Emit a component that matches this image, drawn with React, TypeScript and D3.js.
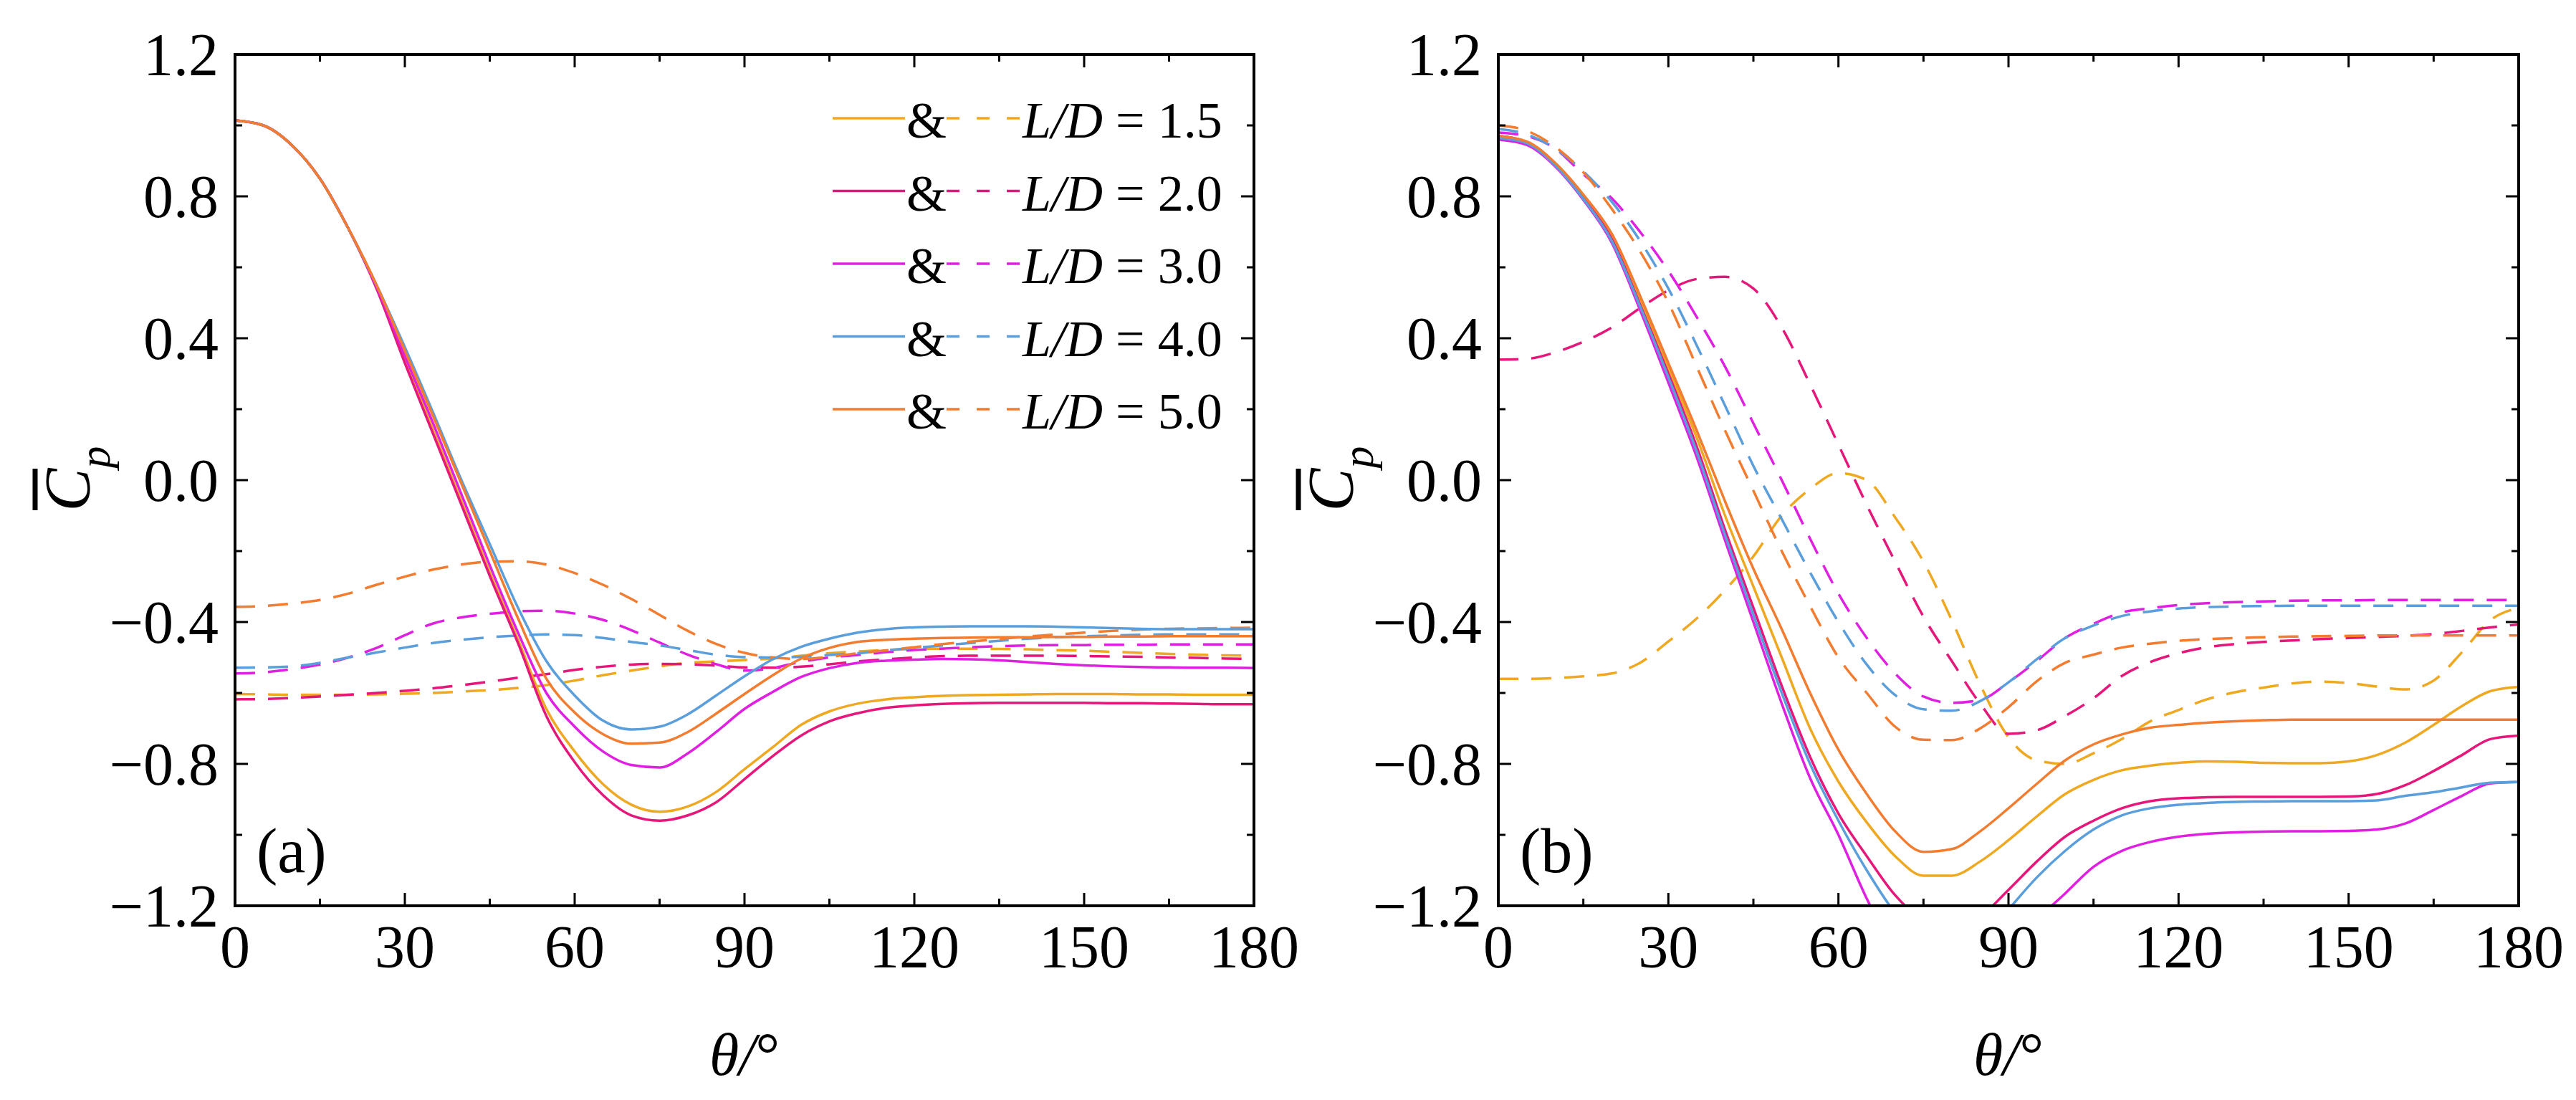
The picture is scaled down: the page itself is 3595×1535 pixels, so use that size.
import * as d3 from "d3"

// theta grid shared by every series (degrees)
const thetas = [
  0, 5, 10, 15, 20, 25, 30, 35, 40, 45, 50, 55, 60, 65, 70, 75, 80, 85, 90,
  95, 100, 105, 110, 115, 120, 125, 130, 135, 140, 145, 150, 155, 160, 165,
  170, 175, 180,
]

const ratios = ["1.5", "2.0", "3.0", "4.0", "5.0"]
const colors = ["#EEA821", "#E6177A", "#E020E0", "#5A9FDB", "#F27C30"]

const xTicks = [0, 30, 60, 90, 120, 150, 180]
const xMinor = [15, 45, 75, 105, 135, 165]
const yTicks = [-1.2, -0.8, -0.4, 0, 0.4, 0.8, 1.2]
const yMinor = [-1.0, -0.6, -0.2, 0.2, 0.6, 1.0]

// panel (a), solid lines
const aSolid15 = [1.014, 1.0, 0.945, 0.85, 0.71, 0.545, 0.34, 0.14, -0.06, -0.26, -0.45, -0.645, -0.765, -0.857, -0.915, -0.935, -0.92, -0.879, -0.815, -0.753, -0.69, -0.652, -0.63, -0.618, -0.612, -0.608, -0.606, -0.605, -0.604, -0.603, -0.603, -0.603, -0.604, -0.604, -0.605, -0.605, -0.605]
const aSolid20 = [1.014, 1.0, 0.945, 0.85, 0.71, 0.54, 0.33, 0.13, -0.07, -0.27, -0.46, -0.665, -0.795, -0.888, -0.945, -0.96, -0.945, -0.908, -0.843, -0.778, -0.72, -0.68, -0.657, -0.642, -0.635, -0.631, -0.629, -0.628, -0.628, -0.628, -0.628, -0.629, -0.629, -0.63, -0.631, -0.632, -0.632]
const aSolid30 = [1.014, 1.0, 0.945, 0.85, 0.71, 0.545, 0.35, 0.16, -0.04, -0.24, -0.43, -0.6, -0.695, -0.765, -0.803, -0.81, -0.77, -0.71, -0.645, -0.597, -0.555, -0.53, -0.515, -0.509, -0.506, -0.504, -0.505, -0.508, -0.513, -0.518, -0.522, -0.525, -0.527, -0.528, -0.529, -0.529, -0.53]
const aSolid40 = [1.014, 1.0, 0.945, 0.85, 0.71, 0.55, 0.375, 0.19, 0.0, -0.18, -0.36, -0.51, -0.607, -0.678, -0.703, -0.695, -0.66, -0.607, -0.553, -0.505, -0.47, -0.447, -0.43, -0.42, -0.415, -0.413, -0.412, -0.412, -0.412, -0.413, -0.415, -0.417, -0.419, -0.42, -0.42, -0.42, -0.42]
const aSolid50 = [1.014, 1.0, 0.945, 0.85, 0.71, 0.55, 0.365, 0.18, -0.01, -0.2, -0.39, -0.56, -0.655, -0.716, -0.743, -0.74, -0.71, -0.658, -0.603, -0.55, -0.503, -0.473, -0.456, -0.45, -0.447, -0.445, -0.444, -0.443, -0.443, -0.442, -0.442, -0.441, -0.441, -0.44, -0.44, -0.44, -0.44]

// panel (a), dashed lines
const aDash15 = [-0.603, -0.604, -0.605, -0.605, -0.605, -0.604, -0.602, -0.6, -0.596, -0.592, -0.586, -0.578, -0.565, -0.55, -0.537, -0.525, -0.515, -0.511, -0.507, -0.503, -0.495, -0.488, -0.483, -0.479, -0.476, -0.475, -0.475, -0.476, -0.477, -0.479, -0.481, -0.484, -0.487, -0.49, -0.492, -0.494, -0.495]
const aDash20 = [-0.618, -0.617, -0.614, -0.61, -0.605, -0.6, -0.594, -0.587, -0.578, -0.568, -0.557, -0.547, -0.535, -0.526, -0.52, -0.518, -0.519, -0.523, -0.528, -0.529, -0.526, -0.519, -0.511, -0.505, -0.5, -0.496, -0.495, -0.495, -0.495, -0.495, -0.496, -0.497, -0.498, -0.5, -0.501, -0.503, -0.504]
const aDash30 = [-0.545, -0.542, -0.533, -0.52, -0.5, -0.473, -0.437, -0.404, -0.387, -0.377, -0.37, -0.368, -0.376, -0.394, -0.423, -0.458, -0.492, -0.519, -0.537, -0.53, -0.512, -0.5, -0.493, -0.485, -0.479, -0.475, -0.471, -0.468, -0.466, -0.465, -0.465, -0.464, -0.464, -0.463, -0.463, -0.463, -0.463]
const aDash40 = [-0.529, -0.528, -0.525, -0.515, -0.5, -0.486, -0.472, -0.459, -0.45, -0.443, -0.438, -0.435, -0.437, -0.445, -0.456, -0.466, -0.479, -0.492, -0.499, -0.5, -0.498, -0.493, -0.488, -0.48, -0.473, -0.466, -0.459, -0.453, -0.447, -0.443, -0.44, -0.438, -0.436, -0.435, -0.435, -0.435, -0.435]
const aDash50 = [-0.357, -0.355, -0.348, -0.338, -0.32, -0.295, -0.272, -0.252, -0.238, -0.23, -0.229, -0.238, -0.262, -0.295, -0.335, -0.38, -0.425, -0.462, -0.487, -0.5, -0.504, -0.498, -0.488, -0.48, -0.471, -0.462, -0.455, -0.448, -0.441, -0.435, -0.43, -0.425, -0.421, -0.419, -0.418, -0.417, -0.416]

// panel (b), solid lines
const bSolid15 = [0.97, 0.953, 0.893, 0.8, 0.69, 0.51, 0.315, 0.12, -0.1, -0.3, -0.5, -0.7, -0.85, -0.965, -1.06, -1.115, -1.115, -1.075, -1.015, -0.948, -0.885, -0.845, -0.818, -0.805, -0.797, -0.793, -0.794, -0.797, -0.798, -0.798, -0.793, -0.775, -0.74, -0.69, -0.637, -0.595, -0.583]
const bSolid20 = [0.97, 0.953, 0.89, 0.795, 0.68, 0.495, 0.3, 0.095, -0.14, -0.36, -0.58, -0.78, -0.94, -1.06, -1.17, -1.24, -1.26, -1.23, -1.155, -1.075, -1.005, -0.96, -0.925, -0.905, -0.897, -0.894, -0.893, -0.893, -0.893, -0.893, -0.892, -0.885, -0.86, -0.82, -0.775, -0.73, -0.72]
const bSolid30 = [0.96, 0.945, 0.885, 0.79, 0.67, 0.48, 0.275, 0.065, -0.17, -0.4, -0.63, -0.84, -1.0, -1.18, -1.33, -1.42, -1.45, -1.41, -1.33, -1.24, -1.165, -1.09, -1.045, -1.02, -1.005, -0.997, -0.993, -0.991, -0.99, -0.99, -0.989, -0.985, -0.968, -0.93, -0.89, -0.855, -0.851]
const bSolid40 = [0.965, 0.95, 0.888, 0.793, 0.675, 0.49, 0.29, 0.08, -0.155, -0.38, -0.6, -0.8, -0.96, -1.1, -1.22, -1.3, -1.33, -1.3, -1.21, -1.12, -1.045, -0.985, -0.945, -0.925, -0.915, -0.91, -0.907, -0.906, -0.905, -0.905, -0.905, -0.903, -0.89, -0.88, -0.866, -0.853, -0.851]
const bSolid50 = [0.97, 0.955, 0.895, 0.805, 0.695, 0.52, 0.33, 0.14, -0.06, -0.25, -0.42, -0.6, -0.76, -0.885, -0.99, -1.048, -1.04, -0.99, -0.925, -0.856, -0.79, -0.745, -0.717, -0.698, -0.69, -0.684, -0.68, -0.677, -0.675, -0.675, -0.675, -0.675, -0.675, -0.675, -0.675, -0.675, -0.675]

// panel (b), dashed lines
const bDash15 = [-0.56, -0.56, -0.558, -0.553, -0.545, -0.515, -0.455, -0.39, -0.31, -0.215, -0.1, -0.025, 0.02, 0.0, -0.105, -0.23, -0.395, -0.576, -0.725, -0.79, -0.8, -0.77, -0.73, -0.68, -0.648, -0.618, -0.598, -0.585, -0.573, -0.568, -0.572, -0.582, -0.59, -0.565, -0.485, -0.395, -0.36]
const bDash20 = [0.34, 0.342, 0.36, 0.39, 0.43, 0.485, 0.535, 0.567, 0.573, 0.54, 0.43, 0.27, 0.1, -0.07, -0.23, -0.385, -0.51, -0.63, -0.715, -0.705, -0.665, -0.615, -0.552, -0.513, -0.488, -0.471, -0.462, -0.456, -0.452, -0.448, -0.445, -0.442, -0.439, -0.434, -0.425, -0.415, -0.407]
const bDash30 = [0.98, 0.97, 0.935, 0.862, 0.795, 0.7, 0.59, 0.46, 0.32, 0.16, 0.0, -0.165, -0.32, -0.445, -0.545, -0.61, -0.628, -0.62, -0.57, -0.51, -0.445, -0.405, -0.373, -0.361, -0.352, -0.347, -0.344, -0.342, -0.34, -0.339, -0.339, -0.338, -0.338, -0.338, -0.338, -0.338, -0.338]
const bDash40 = [0.99, 0.975, 0.935, 0.87, 0.785, 0.675, 0.54, 0.38, 0.21, 0.04, -0.11, -0.26, -0.4, -0.52, -0.606, -0.646, -0.65, -0.623, -0.57, -0.505, -0.445, -0.41, -0.383, -0.37, -0.362, -0.358, -0.356, -0.355, -0.354, -0.354, -0.354, -0.354, -0.354, -0.354, -0.354, -0.354, -0.354]
const bDash50 = [1.0, 0.985, 0.94, 0.868, 0.765, 0.645, 0.5, 0.32, 0.14, -0.03, -0.2, -0.355, -0.5, -0.6, -0.695, -0.732, -0.733, -0.7, -0.64, -0.567, -0.515, -0.492, -0.472, -0.461, -0.453, -0.448, -0.445, -0.443, -0.441, -0.44, -0.439, -0.438, -0.438, -0.438, -0.438, -0.438, -0.438]

const W = 3595
const H = 1535
const TOP = 76
const BOTTOM = 1264
const FONT = "'Liberation Serif', 'Times New Roman', Times, serif"

const panels = [
  { id: "a", left: 328, right: 1750, label: "(a)", legend: true,
    solid: [aSolid15, aSolid20, aSolid30, aSolid40, aSolid50],
    dashed: [aDash15, aDash20, aDash30, aDash40, aDash50] },
  { id: "b", left: 2091, right: 3515, label: "(b)", legend: false,
    solid: [bSolid15, bSolid20, bSolid30, bSolid40, bSolid50],
    dashed: [bDash15, bDash20, bDash30, bDash40, bDash50] },
]

const fmt = (v: number) => v.toFixed(1).replace("-", "\u2212")

function Panel({ p }: { p: (typeof panels)[number] }) {
  const x = d3.scaleLinear().domain([0, 180]).range([p.left, p.right])
  const y = d3.scaleLinear().domain([-1.2, 1.2]).range([BOTTOM, TOP])
  const line = d3
    .line<number>()
    .x((_, i) => x(thetas[i]))
    .y((d) => y(d))
    .curve(d3.curveMonotoneX)
  const major = 18
  const minor = 10

  return (
    <g>
      <defs>
        <clipPath id={`clip-${p.id}`}>
          <rect x={p.left} y={TOP} width={p.right - p.left} height={BOTTOM - TOP} />
        </clipPath>
      </defs>

      <g clipPath={`url(#clip-${p.id})`} fill="none" strokeWidth={3.5}>
        {p.dashed.map((s, i) => (
          <path key={`d${i}`} d={line(s) ?? ""} stroke={colors[i]} strokeDasharray="28,18" />
        ))}
        {p.solid.map((s, i) => (
          <path key={`s${i}`} d={line(s) ?? ""} stroke={colors[i]} />
        ))}
      </g>

      {/* ticks, inward on all four sides */}
      <g stroke="#000" strokeWidth={3}>
        {xTicks.map((t) => (
          <g key={`xt${t}`}>
            <line x1={x(t)} x2={x(t)} y1={BOTTOM} y2={BOTTOM - major} />
            <line x1={x(t)} x2={x(t)} y1={TOP} y2={TOP + major} />
          </g>
        ))}
        {xMinor.map((t) => (
          <g key={`xm${t}`}>
            <line x1={x(t)} x2={x(t)} y1={BOTTOM} y2={BOTTOM - minor} />
            <line x1={x(t)} x2={x(t)} y1={TOP} y2={TOP + minor} />
          </g>
        ))}
        {yTicks.map((t) => (
          <g key={`yt${t}`}>
            <line x1={p.left} x2={p.left + major} y1={y(t)} y2={y(t)} />
            <line x1={p.right} x2={p.right - major} y1={y(t)} y2={y(t)} />
          </g>
        ))}
        {yMinor.map((t) => (
          <g key={`ym${t}`}>
            <line x1={p.left} x2={p.left + minor} y1={y(t)} y2={y(t)} />
            <line x1={p.right} x2={p.right - minor} y1={y(t)} y2={y(t)} />
          </g>
        ))}
      </g>

      <rect x={p.left} y={TOP} width={p.right - p.left} height={BOTTOM - TOP}
        fill="none" stroke="#000" strokeWidth={4} />

      {/* tick labels */}
      <g fontFamily={FONT} fontSize={84} fill="#000">
        {xTicks.map((t) => (
          <text key={`xl${t}`} x={x(t)} y={1350} textAnchor="middle">{t}</text>
        ))}
        {yTicks.map((t) => (
          <text key={`yl${t}`} x={p.left - 23} y={y(t)} dy="0.35em" textAnchor="end">{fmt(t)}</text>
        ))}
      </g>

      {/* axis titles */}
      <text x={(p.left + p.right) / 2} y={1500} textAnchor="middle" fontFamily={FONT} fontSize={84}>
        <tspan fontStyle="italic">θ/</tspan><tspan>°</tspan>
      </text>
      <g transform={`translate(${p.left - 203},${y(0) - 2}) rotate(-90)`}>
        <text x={0} y={0} textAnchor="middle" fontFamily={FONT} fontSize={90} fontStyle="italic">
          <tspan>C</tspan><tspan dy={28} fontSize={62}>p</tspan>
        </text>
        <line x1={-44} x2={14} y1={-76} y2={-76} stroke="#000" strokeWidth={7} />
      </g>

      <text x={p.left + 30} y={1217} fontFamily={FONT} fontSize={88}>{p.label}</text>

      {p.legend && (
        <g fontFamily={FONT} fontSize={72}>
          {ratios.map((r, i) => {
            const c = 167 + i * 101.5
            return (
              <g key={r}>
                <line x1={p.right - 588} x2={p.right - 487} y1={c - 2} y2={c - 2}
                  stroke={colors[i]} strokeWidth={3.5} />
                <text x={p.right - 485} y={c + 25}>&amp;</text>
                <line x1={p.right - 429} x2={p.right - 326} y1={c - 2} y2={c - 2}
                  stroke={colors[i]} strokeWidth={3.5} strokeDasharray="18,24" />
                <text x={p.right - 323} y={c + 25} style={{ whiteSpace: "pre" }}>
                  <tspan fontStyle="italic">L/D</tspan>
                  <tspan>{` = ${r}`}</tspan>
                </text>
              </g>
            )
          })}
        </g>
      )}
    </g>
  )
}

export default function App() {
  return (
    <svg width={W} height={H} viewBox={`0 0 ${W} ${H}`}
      style={{ position: "absolute", left: 0, top: 0, background: "#fff" }}>
      <rect width={W} height={H} fill="#fff" />
      {panels.map((p) => (
        <Panel key={p.id} p={p} />
      ))}
    </svg>
  )
}
